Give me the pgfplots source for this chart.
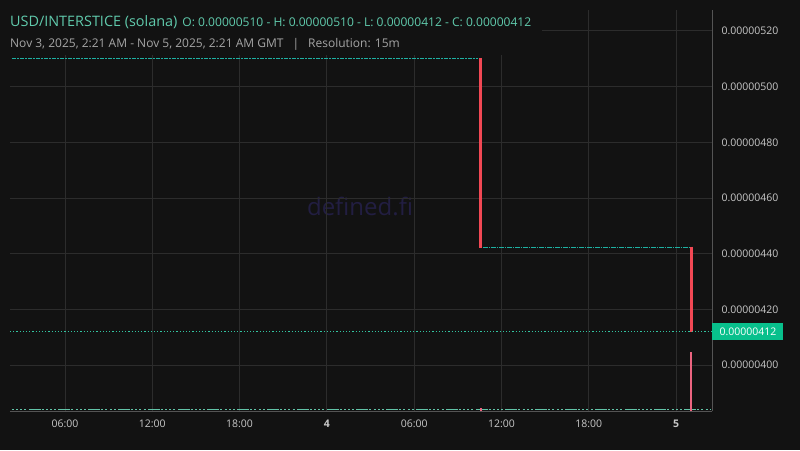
\documentclass[border=0pt]{standalone}
\usepackage{pgfplots}
\pgfplotsset{compat=1.18}
\usepackage{fontspec}
\setmainfont{Open Sans}
\definecolor{bgc}{RGB}{18,18,18}
\definecolor{gridc}{RGB}{44,44,44}
\definecolor{axc}{RGB}{84,84,84}
\definecolor{tickc}{RGB}{200,200,200}
\definecolor{teal1}{RGB}{30,176,162}
\definecolor{teal2}{RGB}{50,196,160}
\definecolor{volc}{RGB}{98,196,168}
\definecolor{redc}{RGB}{242,72,84}
\definecolor{pinkc}{RGB}{236,100,128}
\definecolor{boxc}{RGB}{8,192,140}
\definecolor{titlec}{RGB}{96,202,172}
\definecolor{subc}{RGB}{165,165,165}
\definecolor{wmc}{RGB}{34,30,66}
\begin{document}
\begin{tikzpicture}
\fill[bgc] (0pt,0pt) rectangle (800pt,450pt);
\node[font=\fontsize{24}{24}\selectfont, text=wmc] at (360pt,244pt) {defined.fi};
\begin{axis}[
  at={(10pt,39pt)}, anchor=south west,
  scale only axis, width=702pt, height=401pt,
  xmin=2.22, xmax=50.47, ymin=383.5, ymax=527.5,
  axis x line*=bottom, axis y line*=right,
  axis line style={axc, line width=0.8pt, -},
  major tick length=0pt,
  grid=major, major grid style={gridc, line width=0.9pt},
  xtick={6,12,18,24,30,36,42,48},
  xticklabels={06:00,12:00,18:00,\textbf{4},06:00,12:00,18:00,\textbf{5}},
  ytick={400,420,440,460,480,500,520},
  yticklabels={0.00000400,0.00000420,0.00000440,0.00000460,0.00000480,0.00000500,0.00000520},
  tick label style={font=\fontsize{10.5}{12}\selectfont, text=tickc},
  xticklabel style={yshift=-5pt},
  yticklabel style={xshift=6pt},
  clip=false,
]
% flat candles
\addplot[teal1, line width=1.2pt, dash pattern=on 4.5pt off 1pt on 1.5pt off 1pt] coordinates {(2.35,510) (34.39,510)};
\addplot[teal1, line width=1.2pt, dash pattern=on 4.5pt off 1pt on 1.5pt off 1pt] coordinates {(34.73,442.3) (48.96,442.3)};
% down candles
\addplot[redc, line width=3pt] coordinates {(34.56,510.3) (34.56,442)};
\addplot[redc, line width=3pt] coordinates {(49.06,442.5) (49.06,412)};
% last price line
\addplot[teal2, line width=0.9pt, dash pattern=on 1.2pt off 2pt] coordinates {(2.22,412) (50.47,412)};
% volume
\addplot[volc, line width=1.4pt, dash pattern=on 2pt off 2.2pt on 2pt off 2.2pt on 2pt off 2.2pt on 2pt off 2.2pt on 12pt off 1pt] coordinates {(2.35,384.0) (50.35,384.0)};
\addplot[pinkc, line width=2pt] coordinates {(34.62,383.6) (34.62,384.6)};
\addplot[pinkc, line width=1.6pt] coordinates {(49.02,383.6) (49.02,404.7)};
\end{axis}
% price label
\fill[boxc] (712pt,110pt) rectangle (783pt,127pt);
\node[font=\fontsize{10.5}{12}\selectfont, text=white, anchor=west] at (716pt,118.5pt) {0.00000412};
% header
\fill[bgc] (0pt,395pt) rectangle (542pt,450pt);
\node[anchor=base west, inner sep=0pt, text=titlec] at (10pt,423.5pt)
  {\fontsize{14.4}{16}\selectfont USD/INTERSTICE (solana)\hspace{5pt}\fontsize{12.05}{14}\selectfont O: 0.00000510 - H: 0.00000510 - L: 0.00000412 - C: 0.00000412};
\node[anchor=base west, inner sep=0pt, text=subc, font=\fontsize{12}{14}\selectfont] at (10pt,402.5pt)
  {Nov 3, 2025, 2:21 AM - Nov 5, 2025, 2:21 AM GMT\hspace{9pt}|\hspace{9pt}Resolution: 15m};
\end{tikzpicture}
\end{document}
